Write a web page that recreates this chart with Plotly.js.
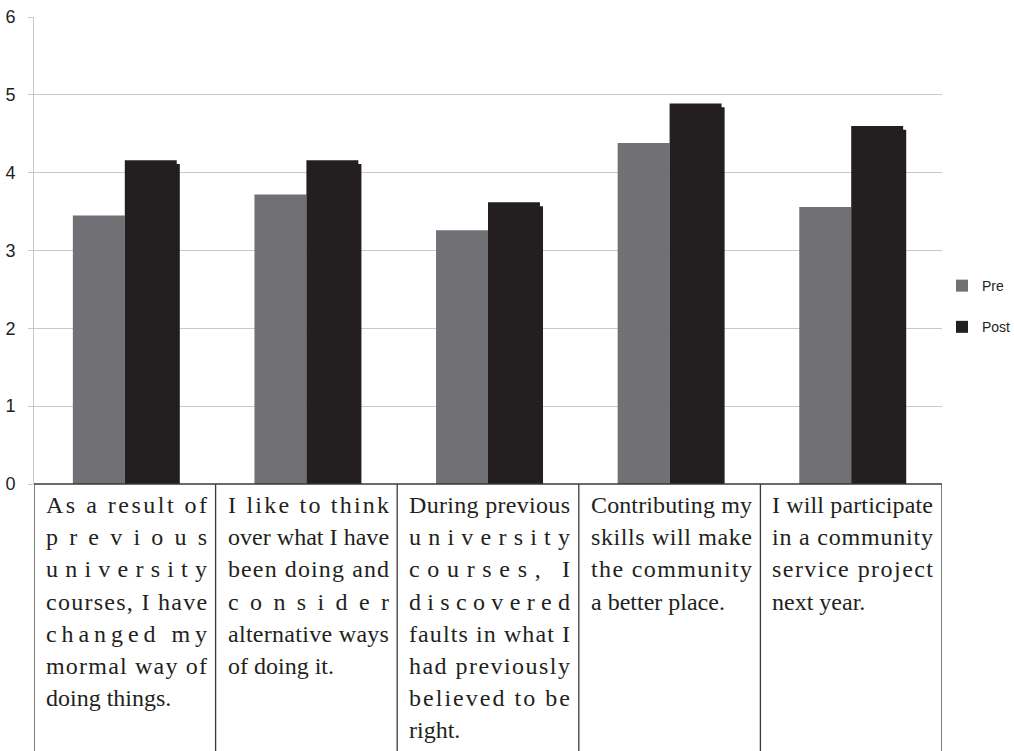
<!DOCTYPE html>
<html>
<head>
<meta charset="utf-8">
<script src="https://cdn.plot.ly/plotly-3.0.1.min.js"></script>
<style>
  html, body { margin: 0; padding: 0; background: #ffffff; }
  #chart { width: 1014px; height: 751px; }
</style>
</head>
<body>
<div id="chart"></div>
<script>
// ---------------- DATA ----------------
const categories = [
  "As a result of previous university courses, I have changed my mormal way of doing things.",
  "I like to think over what I have been doing and consider alternative ways of doing it.",
  "During previous university courses, I discovered faults in what I had previously believed to be right.",
  "Contributing my skills will make the community a better place.",
  "I will participate in a community service project next year."
];
const seriesNames = ["Pre", "Post"];
const preValues  = [3.45, 3.72, 3.26, 4.38, 3.56];
const postValues = [4.16, 4.16, 3.62, 4.89, 4.60];
const yTickValues = [0, 1, 2, 3, 4, 5, 6];
const yTickLabels = ["0", "1", "2", "3", "4", "5", "6"];
// category label lines, as set in the table under the chart
const labelLines1 = ["As a result of", "previous", "university", "courses, I have", "changed my", "mormal way of", "doing things."];
const labelLines2 = ["I like to think", "over what I have", "been doing and", "consider", "alternative ways", "of doing it."];
const labelLines3 = ["During previous", "university", "courses, I", "discovered", "faults in what I", "had previously", "believed to be", "right."];
const labelLines4 = ["Contributing my", "skills will make", "the community", "a better place."];
const labelLines5 = ["I will participate", "in a community", "service project", "next year."];
const labelLines = [labelLines1, labelLines2, labelLines3, labelLines4, labelLines5];

// ---------------- STYLE / LAYOUT ----------------
const W = 1014, H = 751;
const M = { l: 34, r: 72, t: 17, b: 267 };
const plotW = W - M.l - M.r;   // 908
const plotH = H - M.t - M.b;   // 467
const preColor = "#717175";
const postColor = "#231f20";
const gridColor = "#c8c8c8";
const tableColor = "#3a3a3a";
const sansFont = "Liberation Sans Narrow, Liberation Sans, Arial, sans-serif";
const serifFont = "Liberation Serif, Times New Roman, serif";
const serifSize = 24;
const barW = 0.286;

const traces = [
  {
    type: "bar", name: seriesNames[0], x: categories, y: preValues,
    width: barW, offset: -barW,
    marker: { color: preColor, line: { width: 0 } },
    legendgroup: "a", hoverinfo: "y"
  },
  { // soft drop shadow of the Post bars
    type: "bar", name: "shadow", x: categories, y: postValues, base: -0.05,
    width: barW, offset: 0.017,
    marker: { color: postColor, line: { width: 0 } },
    showlegend: false, hoverinfo: "skip"
  },
  {
    type: "bar", name: seriesNames[1], x: categories, y: postValues,
    width: barW, offset: 0,
    marker: { color: postColor, line: { width: 0 } },
    legendgroup: "b", hoverinfo: "y"
  }
];

// ---- table under the axis ----
const shapes = [];
const nCat = categories.length;
shapes.push({ type: "line", xref: "x", yref: "paper", x0: -0.5, x1: nCat - 0.5, y0: 0, y1: 0,
  line: { color: tableColor, width: 1.3 } });
for (let i = 0; i <= nCat; i++) {
  shapes.push({ type: "line", xref: "x", yref: "paper", x0: i - 0.5, x1: i - 0.5, y0: 0, y1: -0.7,
    line: { color: tableColor, width: 1.3 } });
}

// measure text for justified (distributed) lines
const cv = document.createElement("canvas");
const ctx = cv.getContext("2d");
ctx.font = serifSize + "px 'Liberation Serif'";
const cellW = plotW / nCat;
const padL = 11, textW = 161;
const firstLineMidPx = 505, lineStep = 32.2;

const annotations = [];
labelLines.forEach((lines, i) => {
  lines.forEach((ln, j) => {
    let txt = ln;
    if (j < lines.length - 1) {
      const natural = ctx.measureText(ln).width;
      const n = ln.length;
      const ls = (textW - natural) / (n - 1);
      txt = '<span style="letter-spacing:' + ls.toFixed(2) + 'px">' + ln + '</span>';
    }
    const px = cellW * i + padL;
    const py = firstLineMidPx + lineStep * j;
    annotations.push({
      xref: "paper", yref: "paper",
      x: px / plotW, y: (M.t + plotH - py) / plotH,
      xanchor: "left", yanchor: "middle", align: "left",
      text: txt, showarrow: false, borderpad: 0,
      font: { family: serifFont, size: serifSize, color: "#231f20" }
    });
  });
});

const layout = {
  width: W, height: H,
  margin: { l: M.l, r: M.r, t: M.t, b: M.b, pad: 0, autoexpand: false },
  paper_bgcolor: "#ffffff", plot_bgcolor: "#ffffff",
  barmode: "overlay",
  showlegend: true,
  legend: {
    x: 1.0, xanchor: "left", y: 0.38, yanchor: "middle",
    font: { family: sansFont, size: 14, color: "#231f20" },
    tracegroupgap: 20, traceorder: "grouped",
    bgcolor: "rgba(0,0,0,0)", borderwidth: 0, itemclick: false
  },
  xaxis: {
    type: "category", range: [-0.5, nCat - 0.5],
    showticklabels: false, showgrid: false, zeroline: false, showline: false, ticks: ""
  },
  yaxis: {
    range: [0, 6], tickmode: "array", tickvals: yTickValues, ticktext: yTickLabels,
    showgrid: true, gridcolor: gridColor, gridwidth: 1,
    zeroline: false, showline: true, linecolor: gridColor, linewidth: 1,
    ticks: "outside", ticklen: 5, tickcolor: gridColor, tickwidth: 1,
    ticklabelstandoff: 9,
    tickfont: { family: sansFont, size: 18, color: "#231f20" }
  },
  shapes: shapes,
  annotations: annotations
};

Plotly.newPlot("chart", traces, layout, { displayModeBar: false, staticPlot: true });
</script>
</body>
</html>
